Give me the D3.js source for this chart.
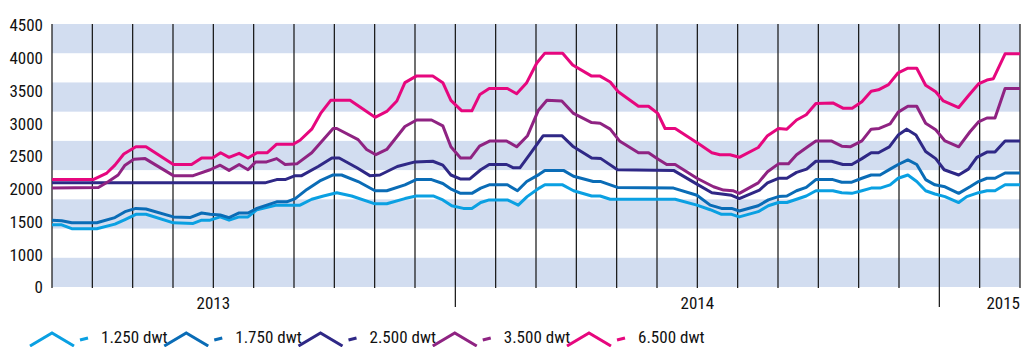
<!DOCTYPE html>
<html><head><meta charset="utf-8">
<script src="https://cdn.jsdelivr.net/npm/d3@7"></script>
<style>
html,body{margin:0;padding:0;background:#fff;}
svg{display:block;}
text{font-family:"Liberation Sans Narrow","Roboto Condensed","Arial Narrow","Liberation Sans",sans-serif;fill:#111;}
</style></head>
<body><svg id="c" width="1022" height="347"></svg>
<script>
// x = months since March 2013 (0 = 1 Mar 2013, 24 = 1 Mar 2015)
const yTickLabels = [0, 1000, 1500, 2000, 2500, 3000, 3500, 4000, 4500];
const yearLabels = ["2013", "2014", "2015"];
const yearStartMonth = [-2, 10, 22];
const seriesNames = ["1.250 dwt", "1.750 dwt", "2.500 dwt", "3.500 dwt", "6.500 dwt"];
const seriesColors = ["#0aa0e2", "#0a6cb6", "#2f2886", "#8f2382", "#e6077e"];

const dwt1250 = [[0,1450],[0.24,1450],[0.49,1390],[1.11,1390],[1.56,1460],[1.81,1530],[2.08,1610],[2.33,1610],[3.01,1480],[3.5,1470],[3.71,1520],[3.92,1520],[4.17,1570],[4.39,1520],[4.64,1570],[4.86,1570],[5.08,1680],[5.57,1750],[6.15,1750],[6.44,1840],[6.73,1890],[7.06,1940],[7.43,1890],[8.01,1770],[8.3,1770],[8.75,1850],[9.03,1890],[9.45,1890],[9.69,1830],[9.91,1740],[10.2,1700],[10.41,1700],[10.63,1790],[10.84,1830],[11.29,1830],[11.56,1750],[11.78,1880],[12.08,2010],[12.22,2060],[12.66,2060],[12.93,1970],[13.38,1890],[13.59,1890],[13.84,1840],[15.45,1840],[15.99,1750],[16.32,1680],[16.6,1610],[16.85,1610],[17.04,1570],[17.51,1650],[17.76,1740],[18.01,1790],[18.22,1790],[18.46,1840],[18.7,1890],[18.94,1970],[19.36,1970],[19.58,1940],[19.83,1930],[20.08,1970],[20.31,2010],[20.53,2010],[20.78,2060],[20.98,2160],[21.22,2210],[21.44,2110],[21.66,1970],[21.89,1920],[22.14,1880],[22.48,1790],[22.68,1880],[22.97,1940],[23.18,1970],[23.38,1970],[23.63,2060],[24,2060]];
const dwt1750 = [[0,1520],[0.24,1510],[0.49,1480],[1.11,1480],[1.56,1560],[1.81,1650],[2.08,1700],[2.33,1690],[3.01,1570],[3.42,1560],[3.71,1630],[3.92,1610],[4.17,1600],[4.39,1560],[4.64,1630],[4.86,1630],[5.08,1700],[5.57,1800],[5.82,1800],[6.03,1850],[6.32,1990],[6.64,2120],[6.97,2210],[7.18,2210],[7.59,2110],[8.01,1970],[8.3,1970],[8.75,2060],[9.03,2140],[9.41,2140],[9.69,2080],[9.91,1990],[10.13,1930],[10.41,1930],[10.63,2010],[10.84,2060],[11.29,2060],[11.54,1970],[11.77,2110],[12.08,2220],[12.22,2280],[12.68,2280],[12.93,2190],[13.42,2110],[13.61,2110],[14.02,2020],[15.41,2010],[15.99,1900],[16.32,1750],[16.6,1700],[16.85,1700],[17.04,1660],[17.51,1740],[17.76,1830],[18.01,1880],[18.22,1890],[18.46,1970],[18.7,2020],[18.94,2140],[19.36,2140],[19.58,2100],[19.83,2100],[20.08,2160],[20.31,2210],[20.53,2210],[20.78,2300],[20.98,2370],[21.22,2440],[21.44,2370],[21.66,2140],[21.89,2060],[22.14,2030],[22.48,1930],[22.76,2030],[22.97,2110],[23.18,2160],[23.38,2160],[23.63,2240],[24,2240]];
const dwt2500 = [[0,2090],[5.28,2090],[5.57,2140],[5.78,2140],[6.03,2200],[6.19,2200],[6.6,2340],[6.94,2470],[7.12,2470],[7.56,2320],[7.88,2200],[8.13,2210],[8.56,2340],[9,2410],[9.44,2420],[9.69,2360],[9.89,2210],[10.12,2150],[10.36,2150],[10.63,2290],[10.84,2370],[11.27,2370],[11.44,2320],[11.6,2320],[11.85,2530],[12.18,2810],[12.64,2810],[12.91,2650],[13.38,2470],[13.61,2460],[14.02,2290],[15.41,2280],[15.99,2070],[16.36,1940],[16.85,1900],[17.04,1850],[17.54,1980],[17.74,2090],[18.01,2160],[18.22,2160],[18.46,2250],[18.71,2300],[18.94,2420],[19.33,2420],[19.61,2370],[19.83,2370],[20.08,2460],[20.31,2550],[20.49,2550],[20.76,2640],[20.98,2820],[21.19,2910],[21.42,2820],[21.66,2570],[21.91,2460],[22.12,2290],[22.48,2210],[22.72,2300],[22.93,2480],[23.18,2560],[23.38,2560],[23.63,2730],[24,2730]];
const dwt3500 = [[0,2010],[1.15,2020],[1.4,2110],[1.64,2210],[1.81,2360],[2.03,2450],[2.31,2460],[3.01,2200],[3.5,2200],[3.92,2290],[4.17,2360],[4.39,2280],[4.64,2370],[4.86,2290],[5.05,2410],[5.32,2410],[5.57,2460],[5.78,2370],[6.07,2380],[6.44,2550],[6.97,2920],[7.06,2920],[7.59,2750],[7.8,2600],[8.03,2520],[8.3,2600],[8.75,2950],[9.04,3050],[9.41,3050],[9.69,2960],[9.89,2640],[10.13,2470],[10.38,2470],[10.6,2650],[10.86,2730],[11.27,2730],[11.52,2640],[11.79,2810],[12.06,3200],[12.27,3350],[12.64,3340],[12.93,3150],[13.38,3010],[13.59,3000],[13.84,2910],[14.07,2730],[14.54,2550],[14.79,2550],[15.03,2450],[15.24,2370],[15.45,2370],[15.99,2160],[16.4,2030],[16.65,1980],[16.88,1970],[17.04,1930],[17.51,2090],[17.74,2260],[18.01,2380],[18.26,2380],[18.46,2520],[18.71,2630],[18.94,2730],[19.32,2730],[19.58,2650],[19.79,2640],[20.08,2730],[20.31,2910],[20.51,2920],[20.78,2990],[20.98,3170],[21.22,3260],[21.44,3260],[21.66,3000],[21.91,2900],[22.14,2730],[22.48,2640],[22.76,2870],[22.97,3020],[23.18,3080],[23.38,3080],[23.63,3530],[24,3530]];
const dwt6500 = [[0,2140],[1.02,2140],[1.36,2240],[1.56,2360],[1.78,2530],[2.08,2640],[2.33,2640],[3.01,2370],[3.46,2370],[3.71,2470],[3.98,2470],[4.18,2550],[4.39,2480],[4.64,2540],[4.86,2470],[5.08,2550],[5.34,2550],[5.57,2680],[5.98,2680],[6.15,2740],[6.44,2910],[6.66,3150],[6.91,3350],[7.39,3350],[8.01,3090],[8.3,3180],[8.55,3340],[8.75,3620],[9.03,3720],[9.44,3720],[9.69,3620],[9.89,3350],[10.16,3190],[10.41,3190],[10.61,3440],[10.84,3530],[11.29,3530],[11.52,3450],[11.77,3620],[12.02,3920],[12.22,4070],[12.66,4070],[12.91,3890],[13.38,3720],[13.59,3720],[13.84,3630],[14.04,3480],[14.54,3260],[14.79,3260],[15.02,3150],[15.2,2920],[15.45,2920],[16.07,2670],[16.36,2550],[16.56,2520],[16.81,2520],[17.04,2480],[17.51,2630],[17.74,2810],[18.01,2920],[18.22,2910],[18.46,3050],[18.7,3130],[18.94,3300],[19.36,3310],[19.61,3230],[19.84,3230],[20.08,3330],[20.31,3490],[20.49,3510],[20.74,3590],[20.98,3770],[21.22,3840],[21.44,3840],[21.66,3580],[21.91,3480],[22.1,3340],[22.48,3240],[22.72,3420],[22.97,3600],[23.18,3660],[23.34,3680],[23.63,4060],[24,4060]];
const seriesData = [dwt1250, dwt1750, dwt2500, dwt3500, dwt6500];

const svg = d3.select("#c");
const plotTop = 24, plotBottom = 287, plotLeft = 52, plotRight = 1020;

const x = d3.scaleLinear().domain([0, 24]).range([plotLeft, plotRight]);
// y axis labels are evenly spaced in the reference (0 and 1000 adjacent)
const y = d3.scaleLinear().domain([0, 1000, 4500]).range([plotBottom, 254.25, 25]);
const bands = d3.scaleBand().domain(d3.range(9)).range([plotTop, plotBottom]);

// alternating stripes
svg.append("g").selectAll("rect")
  .data(d3.range(0, 9, 2))
  .join("rect")
  .attr("x", plotLeft).attr("width", plotRight - plotLeft)
  .attr("y", d => bands(d)).attr("height", bands.bandwidth())
  .attr("fill", "#d2ddf0");

// monthly vertical lines
const isYear = m => yearStartMonth.includes(m);
svg.append("g").selectAll("line")
  .data(d3.range(0, 25))
  .join("line")
  .attr("x1", d => x(d)).attr("x2", d => x(d))
  .attr("y1", plotTop).attr("y2", d => isYear(d) ? 307 : plotBottom + 1)
  .attr("stroke", "#111").attr("stroke-width", 1.2);

// y labels
const yAxis = svg.append("g").attr("transform", `translate(${plotLeft - 9},0)`)
  .call(d3.axisLeft(y).tickValues(yTickLabels).tickSize(0).tickPadding(0).tickFormat(d3.format("d")));
yAxis.select(".domain").remove();
yAxis.selectAll("text").style("font-size", "17px").attr("dy", "0.35em")
  .style("font-family", '"Liberation Sans Narrow","Roboto Condensed","Arial Narrow","Liberation Sans",sans-serif');

// year labels
svg.append("g").selectAll("text")
  .data(yearLabels)
  .join("text")
  .attr("x", (d, i) => Math.min(x(yearStartMonth[i] + 6), plotRight))
  .attr("y", 309)
  .attr("text-anchor", (d, i) => x(yearStartMonth[i] + 6) > plotRight ? "end" : "middle")
  .style("font-size", "17px")
  .text(d => d);

// series lines
const line = d3.line().x(d => x(d[0])).y(d => y(d[1]));
svg.append("g").selectAll("path")
  .data(seriesData)
  .join("path")
  .attr("d", line)
  .attr("fill", "none")
  .attr("stroke", (d, i) => seriesColors[i])
  .attr("stroke-width", 3)
  .attr("stroke-linejoin", "round");

// legend
const legX = d3.scalePoint().domain(seriesNames).range([30, 567]);
const leg = svg.append("g").selectAll("g")
  .data(seriesNames)
  .join("g")
  .attr("transform", d => `translate(${legX(d)},0)`);
leg.append("polyline")
  .attr("points", "0,346 22,333 44,346")
  .attr("fill", "none")
  .attr("stroke", (d, i) => seriesColors[i])
  .attr("stroke-width", 3);
leg.append("line")
  .attr("x1", 50).attr("x2", 58).attr("y1", 340).attr("y2", 338)
  .attr("stroke", (d, i) => seriesColors[i]).attr("stroke-width", 3);
leg.append("text")
  .attr("x", 71).attr("y", 343)
  .style("font-size", "17px")
  .text(d => d);
</script></body></html>
